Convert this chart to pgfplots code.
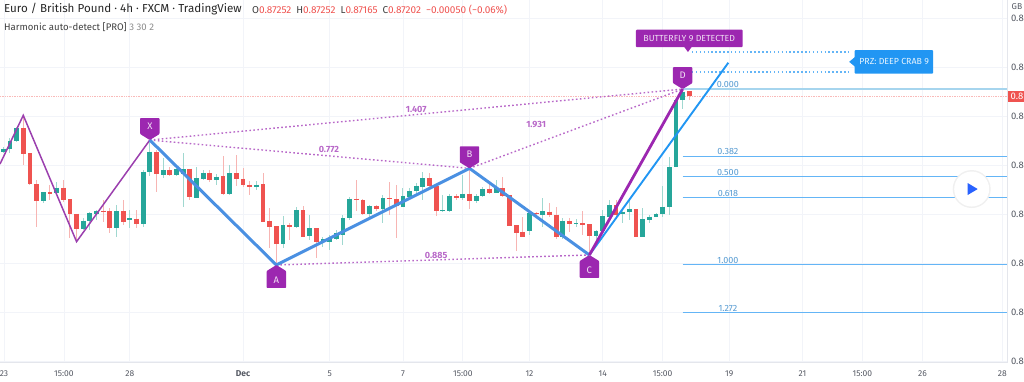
\documentclass[border=0pt]{standalone}
\usepackage{pgfplots}
\usepackage{pgfplotstable}
\usepackage{fontspec}
\setmainfont{Fira Sans}
\pgfplotsset{compat=1.18}
\definecolor{cgreen}{HTML}{26A69A}
\definecolor{cred}{HTML}{EF5350}
\definecolor{wgreen}{HTML}{A0D8D0}
\definecolor{wred}{HTML}{F7B5B3}
\definecolor{tagc}{HTML}{9C27B0}
\definecolor{dotc}{HTML}{B868C8}
\definecolor{lpurple}{HTML}{9B3FAE}
\definecolor{bthick}{HTML}{4A90E2}
\definecolor{bthin}{HTML}{2196F3}
\definecolor{fibc}{HTML}{64B5F6}
\definecolor{fib0}{HTML}{A6D5EE}
\definecolor{gridc}{HTML}{F2F4F9}
\definecolor{axc}{HTML}{E4E6EC}
\definecolor{playc}{HTML}{2962FF}
\definecolor{labc}{HTML}{555963}

\pgfplotstableread{
k top bot hi lo
1 0.86667 0.86633 0.86680 0.86619
2 0.86748 0.86660 0.86772 0.86619
3 0.86877 0.86748 0.86891 0.86738
7 0.86221 0.86136 0.86228 0.86109
9 0.86269 0.86211 0.86330 0.86194
13 0.85932 0.85851 0.85956 0.85837
14 0.86010 0.85925 0.86024 0.85837
15 0.86031 0.86004 0.86041 0.85939
18 0.86027 0.85857 0.86092 0.85769
20 0.85956 0.85939 0.86041 0.85854
22 0.86432 0.85898 0.86449 0.85871
23 0.86636 0.86429 0.86755 0.86388
25 0.86449 0.86401 0.86568 0.86364
27 0.86463 0.86398 0.86483 0.86388
28 0.86456 0.86408 0.86619 0.86068
30 0.86364 0.86167 0.86476 0.86160
31 0.86418 0.86361 0.86449 0.86347
33 0.86381 0.86347 0.86408 0.86296
35 0.86415 0.86204 0.86500 0.86194
39 0.86299 0.86272 0.86340 0.86245
43 0.85885 0.85694 0.85980 0.85650
45 0.86041 0.85864 0.86075 0.85854
47 0.85854 0.85776 0.85990 0.85735
49 0.85742 0.85718 0.85769 0.85667
50 0.85752 0.85718 0.85786 0.85633
51 0.85810 0.85749 0.85837 0.85735
52 0.85956 0.85786 0.85990 0.85684
53 0.86157 0.85956 0.86170 0.85939
56 0.86082 0.86000 0.86092 0.85973
58 0.86160 0.86048 0.86194 0.85905
61 0.86184 0.86075 0.86262 0.86068
62 0.86235 0.86177 0.86262 0.86143
63 0.86286 0.86231 0.86313 0.86194
64 0.86364 0.86279 0.86432 0.86143
67 0.86041 0.86031 0.86194 0.86024
68 0.86187 0.86034 0.86204 0.86024
70 0.86208 0.86167 0.86398 0.86143
72 0.86184 0.86129 0.86204 0.86109
73 0.86252 0.86184 0.86279 0.86170
75 0.86265 0.86218 0.86347 0.86211
80 0.86007 0.85830 0.86007 0.85786
82 0.86027 0.85993 0.86160 0.85864
85 0.85929 0.85762 0.85956 0.85742
87 0.85908 0.85895 0.85953 0.85864
90 0.85827 0.85772 0.85837 0.85701
91 0.85980 0.85827 0.86041 0.85803
92 0.86092 0.85973 0.86143 0.85956
94 0.86024 0.85997 0.86058 0.85912
95 0.86048 0.86021 0.86143 0.85939
97 0.85946 0.85762 0.86058 0.85762
98 0.85973 0.85942 0.85990 0.85905
99 0.86000 0.85973 0.86014 0.85966
100 0.86075 0.85997 0.86286 0.85973
101 0.86476 0.86075 0.86578 0.85990
102 0.87163 0.86476 0.87163 0.86476
103 0.87248 0.87163 0.87275 0.87068
}\greentable

\pgfplotstableread{
k top bot hi lo
4 0.86877 0.86612 0.87007 0.86503
5 0.86619 0.86303 0.86619 0.86296
6 0.86306 0.86136 0.86347 0.85864
8 0.86225 0.86208 0.86296 0.86143
10 0.86269 0.86143 0.86347 0.86126
11 0.86150 0.86000 0.86150 0.85752
12 0.86004 0.85851 0.86004 0.85735
16 0.86031 0.86021 0.86143 0.85922
17 0.86027 0.85857 0.86058 0.85803
19 0.86027 0.85922 0.86143 0.85888
21 0.85953 0.85898 0.86041 0.85854
24 0.86636 0.86405 0.86653 0.86228
26 0.86449 0.86395 0.86483 0.86388
29 0.86463 0.86170 0.86463 0.86143
32 0.86418 0.86347 0.86449 0.86330
34 0.86384 0.86204 0.86592 0.86194
36 0.86415 0.86357 0.86602 0.86286
37 0.86361 0.86296 0.86473 0.86279
38 0.86299 0.86276 0.86340 0.86194
40 0.86303 0.85922 0.86415 0.85922
41 0.85929 0.85868 0.86058 0.85650
42 0.85874 0.85694 0.85874 0.85480
44 0.85885 0.85864 0.85912 0.85735
46 0.86041 0.85769 0.86082 0.85769
48 0.85854 0.85718 0.85854 0.85548
54 0.86157 0.86143 0.86347 0.86034
55 0.86143 0.86000 0.86150 0.85990
57 0.86082 0.86048 0.86092 0.86034
59 0.86163 0.86150 0.86327 0.85990
60 0.86153 0.86082 0.86296 0.85752
65 0.86364 0.86286 0.86415 0.86245
66 0.86286 0.86031 0.86286 0.85980
69 0.86184 0.86167 0.86204 0.86143
71 0.86208 0.86129 0.86466 0.86048
74 0.86252 0.86218 0.86306 0.86204
76 0.86265 0.86184 0.86374 0.86170
77 0.86191 0.85878 0.86191 0.85878
78 0.85885 0.85810 0.85885 0.85626
79 0.85817 0.85762 0.85973 0.85762
81 0.86010 0.85997 0.86024 0.85973
83 0.86024 0.85990 0.86116 0.85973
84 0.85993 0.85762 0.86068 0.85749
86 0.85929 0.85902 0.85956 0.85820
88 0.85905 0.85891 0.86034 0.85786
89 0.85898 0.85772 0.85898 0.85582
93 0.86092 0.85990 0.86143 0.85973
96 0.86048 0.85762 0.86048 0.85762
104 0.87252 0.87202 0.87252 0.87165
}\redtable

% k = candle number; a tag with its tip at (k,price)
\newcommand\tagdown[3]{%
  \fill[tagc,rounded corners=0.8pt] (axis cs:#1,#2) -- ++(-9.7pt,6pt) -- ++(0pt,16pt) -- ++(19.4pt,0pt) -- ++(0pt,-16pt) -- cycle;
  \node[text=white!85!tagc,font=\fontsize{9.5}{9}\selectfont] at ([yshift=14pt]axis cs:#1,#2) {#3};}
\newcommand\tagup[3]{%
  \fill[tagc,rounded corners=0.8pt] (axis cs:#1,#2) -- ++(-9.7pt,-6pt) -- ++(0pt,-17pt) -- ++(19.4pt,0pt) -- ++(0pt,17pt) -- cycle;
  \node[text=white!85!tagc,font=\fontsize{9.5}{9}\selectfont] at ([yshift=-15pt]axis cs:#1,#2) {#3};}
\newcommand\fiblab[2]{\node[anchor=south,inner sep=1pt,text=fibc!85!black,font=\fontsize{9}{9}\selectfont] at (axis cs:109.8,#1) {#2};}

\begin{document}
\begin{tikzpicture}
\useasboundingbox (0pt,0pt) rectangle (1024pt,382pt);
\begin{axis}[
  at={(0pt,19.3pt)},anchor=south west,
  scale only axis,width=1007pt,height=362.7pt,
  xmin=0.5045,xmax=151.7,ymin=0.84483,ymax=0.88184,
  clip=false,
  axis x line*=bottom,axis y line*=right,
  axis line style={draw=axc,-},
  xmajorgrids,ymajorgrids,
  grid style={draw=gridc,line width=0.8pt},
  major tick length=0pt,
  xtick={1.1,10.1,20,37,50,61,70,80,91,100,110,121,130,139,151},
  xticklabels={23,15:00,28,\textbf{Dec},5,7,15:00,12,14,15:00,19,21,15:00,26,28},
  ytick={0.845,0.85,0.855,0.86,0.865,0.87,0.875,0.88},
  yticklabels={0.8,0.8,0.8,0.8,0.8,0.8,0.8,0.8},
  tick label style={font=\fontsize{8.5}{9}\selectfont,text=labc},
  xticklabel style={yshift=-4.5pt},
  yticklabel style={anchor=west,xshift=0.5pt,font=\fontsize{9.5}{10}\selectfont},
]
% last price line
\addplot[cred!40,line width=0.7pt,densely dotted,forget plot] coordinates {(0.5045,0.87202) (151.7,0.87202)};
% candles
\addplot[draw=none,mark=none,forget plot,error bars/.cd,y dir=both,y explicit,error mark=none,error bar style={draw=wgreen,line width=1pt}]
  table[x=k,y=top,y error plus expr=\thisrow{hi}-\thisrow{top},y error minus expr=\thisrow{top}-\thisrow{lo}] {\greentable};
\addplot[draw=none,mark=none,forget plot,error bars/.cd,y dir=both,y explicit,error mark=none,error bar style={draw=wred,line width=1pt}]
  table[x=k,y=top,y error plus expr=\thisrow{hi}-\thisrow{top},y error minus expr=\thisrow{top}-\thisrow{lo}] {\redtable};
\addplot[draw=none,mark=none,forget plot,error bars/.cd,y dir=minus,y explicit,error mark=none,error bar style={draw=cgreen,line width=4.8pt}]
  table[x=k,y=top,y error minus expr=\thisrow{top}-\thisrow{bot}] {\greentable};
\addplot[draw=none,mark=none,forget plot,error bars/.cd,y dir=minus,y explicit,error mark=none,error bar style={draw=cred,line width=4.8pt}]
  table[x=k,y=top,y error minus expr=\thisrow{top}-\thisrow{bot}] {\redtable};
% fib levels
\addplot[fib0,line width=2pt,forget plot] coordinates {(103,0.87276) (151.7,0.87276)};
\addplot[fibc,line width=1pt,forget plot] coordinates {(103,0.86590) (151.7,0.86590)};
\addplot[fibc,line width=1pt,forget plot] coordinates {(103,0.86378) (151.7,0.86378)};
\addplot[fibc,line width=1pt,forget plot] coordinates {(103,0.86166) (151.7,0.86166)};
\addplot[fibc,line width=1pt,forget plot] coordinates {(103,0.85480) (151.7,0.85480)};
\addplot[fibc,line width=1pt,forget plot] coordinates {(103,0.84992) (151.7,0.84992)};
% dotted PRZ guides
\addplot[fibc,line width=1.2pt,dash pattern=on 1.5pt off 2.4pt,forget plot] coordinates {(104.4,0.87653) (127.9,0.87653)};
\addplot[fibc,line width=1.2pt,dash pattern=on 1.5pt off 2.4pt,forget plot] coordinates {(104.4,0.87449) (127.9,0.87449)};
% dotted pattern legs
\addplot[dotc,line width=1.4pt,dash pattern=on 1.6pt off 2.4pt,forget plot] coordinates {(23,0.86755) (103,0.87275)};
\addplot[dotc,line width=1.4pt,dash pattern=on 1.6pt off 2.4pt,forget plot] coordinates {(23,0.86755) (71,0.86466)};
\addplot[dotc,line width=1.4pt,dash pattern=on 1.6pt off 2.4pt,forget plot] coordinates {(71,0.86466) (103,0.87275)};
\addplot[dotc,line width=1.4pt,dash pattern=on 1.6pt off 2.4pt,forget plot] coordinates {(42,0.85480) (89,0.85582)};
% earlier pattern
\addplot[lpurple,line width=1.5pt,forget plot] coordinates {(0.5045,0.8651) (4,0.87007) (12,0.85718) (23,0.86755)};
% XABCD
\addplot[bthick,line width=3pt,forget plot] coordinates {(23,0.86755) (42,0.85480) (71,0.86466) (89,0.85582)};
\addplot[bthin,line width=1.9pt,forget plot] coordinates {(89,0.85582) (109.86,0.87544)};
\addplot[tagc,line width=2.8pt,forget plot] coordinates {(89,0.85582) (103,0.87275)};
% fib texts
\fiblab{0.87276}{0.000}
\fiblab{0.86590}{0.382}
\fiblab{0.86378}{0.500}
\fiblab{0.86166}{0.618}
\fiblab{0.85480}{1.000}
\fiblab{0.84992}{1.272}
% ratio texts
\node[text=dotc,font=\fontsize{9}{9}\selectfont\bfseries] at (axis cs:63,0.87071) {1.407};
\node[text=dotc,font=\fontsize{9}{9}\selectfont\bfseries] at (axis cs:49.9,0.86663) {0.772};
\node[text=dotc,font=\fontsize{9}{9}\selectfont\bfseries] at (axis cs:81,0.86918) {1.931};
\node[text=dotc,font=\fontsize{9}{9}\selectfont\bfseries] at (axis cs:66,0.85582) {0.885};
% tags
\tagdown{23}{0.86755}{X}
\tagup{42}{0.85480}{A}
\tagdown{71}{0.86466}{B}
\tagup{89}{0.85582}{C}
\tagdown{103}{0.87275}{D}
% butterfly label
\fill[tagc,rounded corners=0.8pt] ([xshift=-52pt,yshift=5pt]axis cs:103.8,0.87653) rectangle ([xshift=54.7pt,yshift=22.3pt]axis cs:103.8,0.87653);
\fill[tagc] (axis cs:103.8,0.87653) -- ++(-4pt,5.5pt) -- ++(8pt,0pt) -- cycle;
\node[text=white!85!tagc,font=\fontsize{8.8}{9}\selectfont] at ([xshift=1.3pt,yshift=13.6pt]axis cs:103.8,0.87653) {BUTTERFLY 9 DETECTED};
% PRZ label
\fill[bthin,rounded corners=0.8pt] ([xshift=5.5pt,yshift=-11.7pt]axis cs:128,0.87553) rectangle ([xshift=84pt,yshift=11.7pt]axis cs:128,0.87553);
\fill[bthin] (axis cs:128,0.87553) -- ++(6pt,5pt) -- ++(0pt,-10pt) -- cycle;
\node[text=white!90!bthin,font=\fontsize{8.8}{9}\selectfont] at ([xshift=45pt]axis cs:128,0.87553) {PRZ: DEEP CRAB 9};
% play button
\fill[black!6] (axis cs:146.4,0.86255) circle[radius=19pt];
\fill[white] (axis cs:146.4,0.86255) circle[radius=17.5pt];
\addplot[fill=playc,draw=none,forget plot] coordinates {(145.8,0.86316) (147.3,0.86255) (145.8,0.86194)} --cycle;
% last-price box
\fill[cred] ([xshift=1pt,yshift=-5.5pt]axis cs:151.7,0.87202) rectangle ([xshift=17pt,yshift=5.5pt]axis cs:151.7,0.87202);
\node[anchor=west,inner sep=0pt,text=white,font=\fontsize{9.5}{10}\selectfont] at ([xshift=3.5pt]axis cs:151.7,0.87202) {0.8};
% currency
\node[anchor=west,inner sep=0pt,text=labc,font=\fontsize{8.5}{9}\selectfont] at ([xshift=4.5pt]axis cs:151.7,0.88116) {GB};
\end{axis}
% header
\node[anchor=west,inner sep=0pt,font=\fontsize{11.6}{12}\selectfont,text=black!85] at (4pt,372.5pt) {Euro / British Pound · 4h · FXCM · TradingView};
\node[anchor=west,inner sep=0pt,font=\fontsize{10}{11}\selectfont,text=cred] at (252pt,371.5pt) {{\color{black!75}O}0.87252\enspace{\color{black!75}H}0.87252\enspace{\color{black!75}L}0.87165\enspace{\color{black!75}C}0.87202\enspace −0.00050 (−0.06\%)};
\node[anchor=west,inner sep=0pt,font=\fontsize{9.6}{10}\selectfont,text=black!75] at (4pt,355pt) {Harmonic auto-detect [PRO] {\color{black!45}3 30 2}};
\end{tikzpicture}
\end{document}
